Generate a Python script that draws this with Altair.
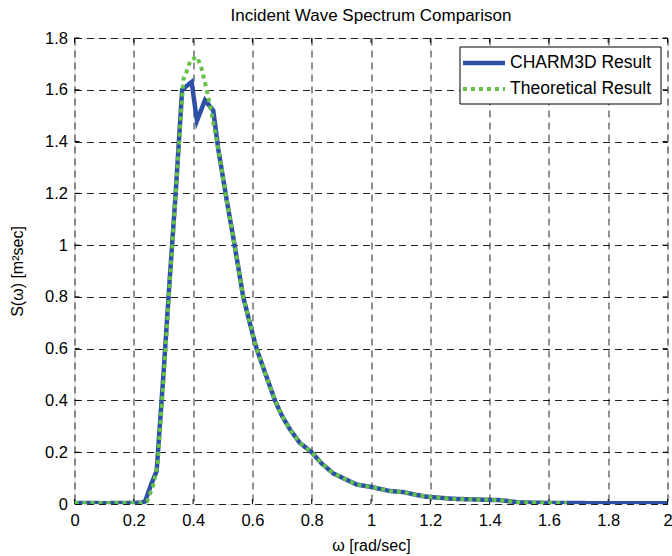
import altair as alt
import pandas as pd

# ---- data ----
charm_w = [0.0, 0.05, 0.1, 0.15, 0.2, 0.225, 0.238, 0.26, 0.277, 0.30, 0.32, 0.34, 0.363,
           0.395, 0.413, 0.44, 0.468, 0.485, 0.513, 0.537, 0.569, 0.60, 0.614, 0.645,
           0.676, 0.70, 0.727, 0.76, 0.80, 0.835, 0.873, 0.915, 0.952, 1.0, 1.064, 1.109,
           1.15, 1.188, 1.278, 1.368, 1.435, 1.5, 1.6, 1.8, 2.0]
charm_s = [0.004, 0.004, 0.003, 0.004, 0.004, 0.005, 0.01, 0.08, 0.127, 0.50, 0.85, 1.18, 1.60,
           1.63, 1.48, 1.56, 1.52, 1.37, 1.176, 1.02, 0.80, 0.66, 0.60, 0.50,
           0.40, 0.34, 0.288, 0.236, 0.20, 0.155, 0.118, 0.095, 0.075, 0.066, 0.05, 0.046,
           0.036, 0.028, 0.02, 0.017, 0.015, 0.006, 0.004, 0.003, 0.003]

theo_w = [0.0, 0.05, 0.1, 0.15, 0.2, 0.225, 0.245, 0.265, 0.28, 0.30, 0.32, 0.34, 0.367,
          0.378, 0.392, 0.414, 0.429, 0.446, 0.462, 0.485, 0.513, 0.537, 0.569, 0.60, 0.614,
          0.645, 0.676, 0.70, 0.727, 0.76, 0.80, 0.835, 0.873, 0.915, 0.952, 1.0, 1.064,
          1.109, 1.15, 1.188, 1.278, 1.368, 1.435, 1.5, 1.66]
theo_s = [0.004, 0.004, 0.004, 0.004, 0.004, 0.004, 0.01, 0.07, 0.15, 0.47, 0.83, 1.17, 1.64,
          1.67, 1.716, 1.727, 1.68, 1.60, 1.51, 1.37, 1.176, 1.02, 0.80, 0.66, 0.60,
          0.50, 0.40, 0.34, 0.288, 0.236, 0.20, 0.155, 0.118, 0.095, 0.075, 0.066, 0.05,
          0.046, 0.036, 0.028, 0.02, 0.017, 0.015, 0.006, 0.004]

series_names = ["CHARM3D Result", "Theoretical Result"]
series_colors = ["#2E4FA6", "#66C14A"]
series_dashes = [[1, 0], [4, 4]]

x_ticks = [0, 0.2, 0.4, 0.6, 0.8, 1, 1.2, 1.4, 1.6, 1.8, 2]
y_ticks = [0, 0.2, 0.4, 0.6, 0.8, 1, 1.2, 1.4, 1.6, 1.8]

title_text = "Incident Wave Spectrum Comparison"
x_title = "ω [rad/sec]"
y_title = "S(ω) [m²sec]"

# ---- tables ----
df_c = pd.DataFrame({"w": charm_w, "S": charm_s, "series": series_names[0]})
df_t = pd.DataFrame({"w": theo_w, "S": theo_s, "series": series_names[1]})
df_xt = pd.DataFrame({"w": x_ticks})
df_yt = pd.DataFrame({"S": y_ticks})
df_one = pd.DataFrame({"k": [0]})

W, H = 593, 466
FONT = "Liberation Sans"

xscale = alt.Scale(domain=[0, 2], nice=False, zero=False)
yscale = alt.Scale(domain=[0, 1.8], nice=False, zero=False)

xaxis = alt.Axis(title=x_title, values=x_ticks, format="~g", grid=True,
                 gridDash=[7, 5], gridColor="#000000", gridOpacity=0.85, gridWidth=1,
                 ticks=False, domain=False, labelFont=FONT, labelFontSize=16.5,
                 labelColor="#000000", labelPadding=8, labelFlush=False,
                 titleFont=FONT, titleFontSize=16, titleFontWeight="normal",
                 titleColor="#000000", titlePadding=9)
yaxis = alt.Axis(title=y_title, values=y_ticks, format="~g", grid=True,
                 gridDash=[7, 5], gridColor="#000000", gridOpacity=0.85, gridWidth=1,
                 ticks=False, domain=False, labelFont=FONT, labelFontSize=16.5,
                 labelColor="#000000", labelPadding=7, labelFlush=False,
                 titleFont=FONT, titleFontSize=16, titleFontWeight="normal",
                 titleColor="#000000", titleX=-57, titleY=H / 2,
                 titleAngle=-90, titleAlign="center", titleBaseline="middle")

color = alt.Color("series:N", scale=alt.Scale(domain=series_names, range=series_colors),
                  legend=None)
dash = alt.StrokeDash("series:N", scale=alt.Scale(domain=series_names, range=series_dashes),
                      legend=None)

X = alt.X("w:Q", scale=xscale, axis=xaxis)
Y = alt.Y("S:Q", scale=yscale, axis=yaxis)

line_c = alt.Chart(df_c).mark_line(strokeWidth=4.5, clip=True).encode(
    x=X, y=Y, color=color, strokeDash=dash, order="w:Q")
line_t = alt.Chart(df_t).mark_line(strokeWidth=4, strokeCap="butt", clip=True).encode(
    x=X, y=Y, color=color, strokeDash=dash, order="w:Q")

tick_len = 5
ticks_bottom = alt.Chart(df_xt).mark_rule(color="black", strokeWidth=1).encode(
    x=X, y=alt.value(H), y2=alt.value(H - tick_len))
ticks_top = alt.Chart(df_xt).mark_rule(color="black", strokeWidth=1).encode(
    x=X, y=alt.value(0), y2=alt.value(tick_len))
ticks_left = alt.Chart(df_yt).mark_rule(color="black", strokeWidth=1).encode(
    y=Y, x=alt.value(0), x2=alt.value(tick_len))
ticks_right = alt.Chart(df_yt).mark_rule(color="black", strokeWidth=1).encode(
    y=Y, x=alt.value(W), x2=alt.value(W - tick_len))

# ---- title drawn as a text mark (pixel layout) ----
title_mark = alt.Chart(df_one).mark_text(
    text=title_text, font=FONT, fontSize=17, color="black",
    align="center", baseline="alphabetic").encode(
    x=alt.value(W / 2), y=alt.value(-17))

# ---- legend drawn as marks (pixel layout) ----
LX0, LX1, LY0, LY1 = 385.5, 586.5, 9, 66
row_y = [25, 51]
legend_box = alt.Chart(df_one).mark_rect(fill="white", stroke="black", strokeWidth=1).encode(
    x=alt.value(LX0), x2=alt.value(LX1), y=alt.value(LY0), y2=alt.value(LY1))
legend_layers = [legend_box]
for i, name in enumerate(series_names):
    legend_layers.append(
        alt.Chart(df_one).mark_rule(
            color=series_colors[i], strokeWidth=4.5 if i == 0 else 4,
            strokeDash=series_dashes[i], strokeCap="butt").encode(
            x=alt.value(LX0 + 3), x2=alt.value(LX0 + 45), y=alt.value(row_y[i])))
    legend_layers.append(
        alt.Chart(df_one).mark_text(
            text=name, font=FONT, fontSize=17.5, color="black",
            align="left", baseline="middle").encode(
            x=alt.value(LX0 + 50), y=alt.value(row_y[i])))

chart = alt.layer(ticks_bottom, ticks_top, ticks_left, ticks_right, line_c, line_t,
                  title_mark, *legend_layers).properties(
    width=W, height=H,
    autosize=alt.AutoSizeParams(type="none"),
    padding={"left": 74.5, "top": 38, "right": 4.5, "bottom": 52},
).configure_view(stroke="black", strokeWidth=1).configure(background="white")

chart.save("out.html", embed_options={"renderer": "svg", "actions": False})
